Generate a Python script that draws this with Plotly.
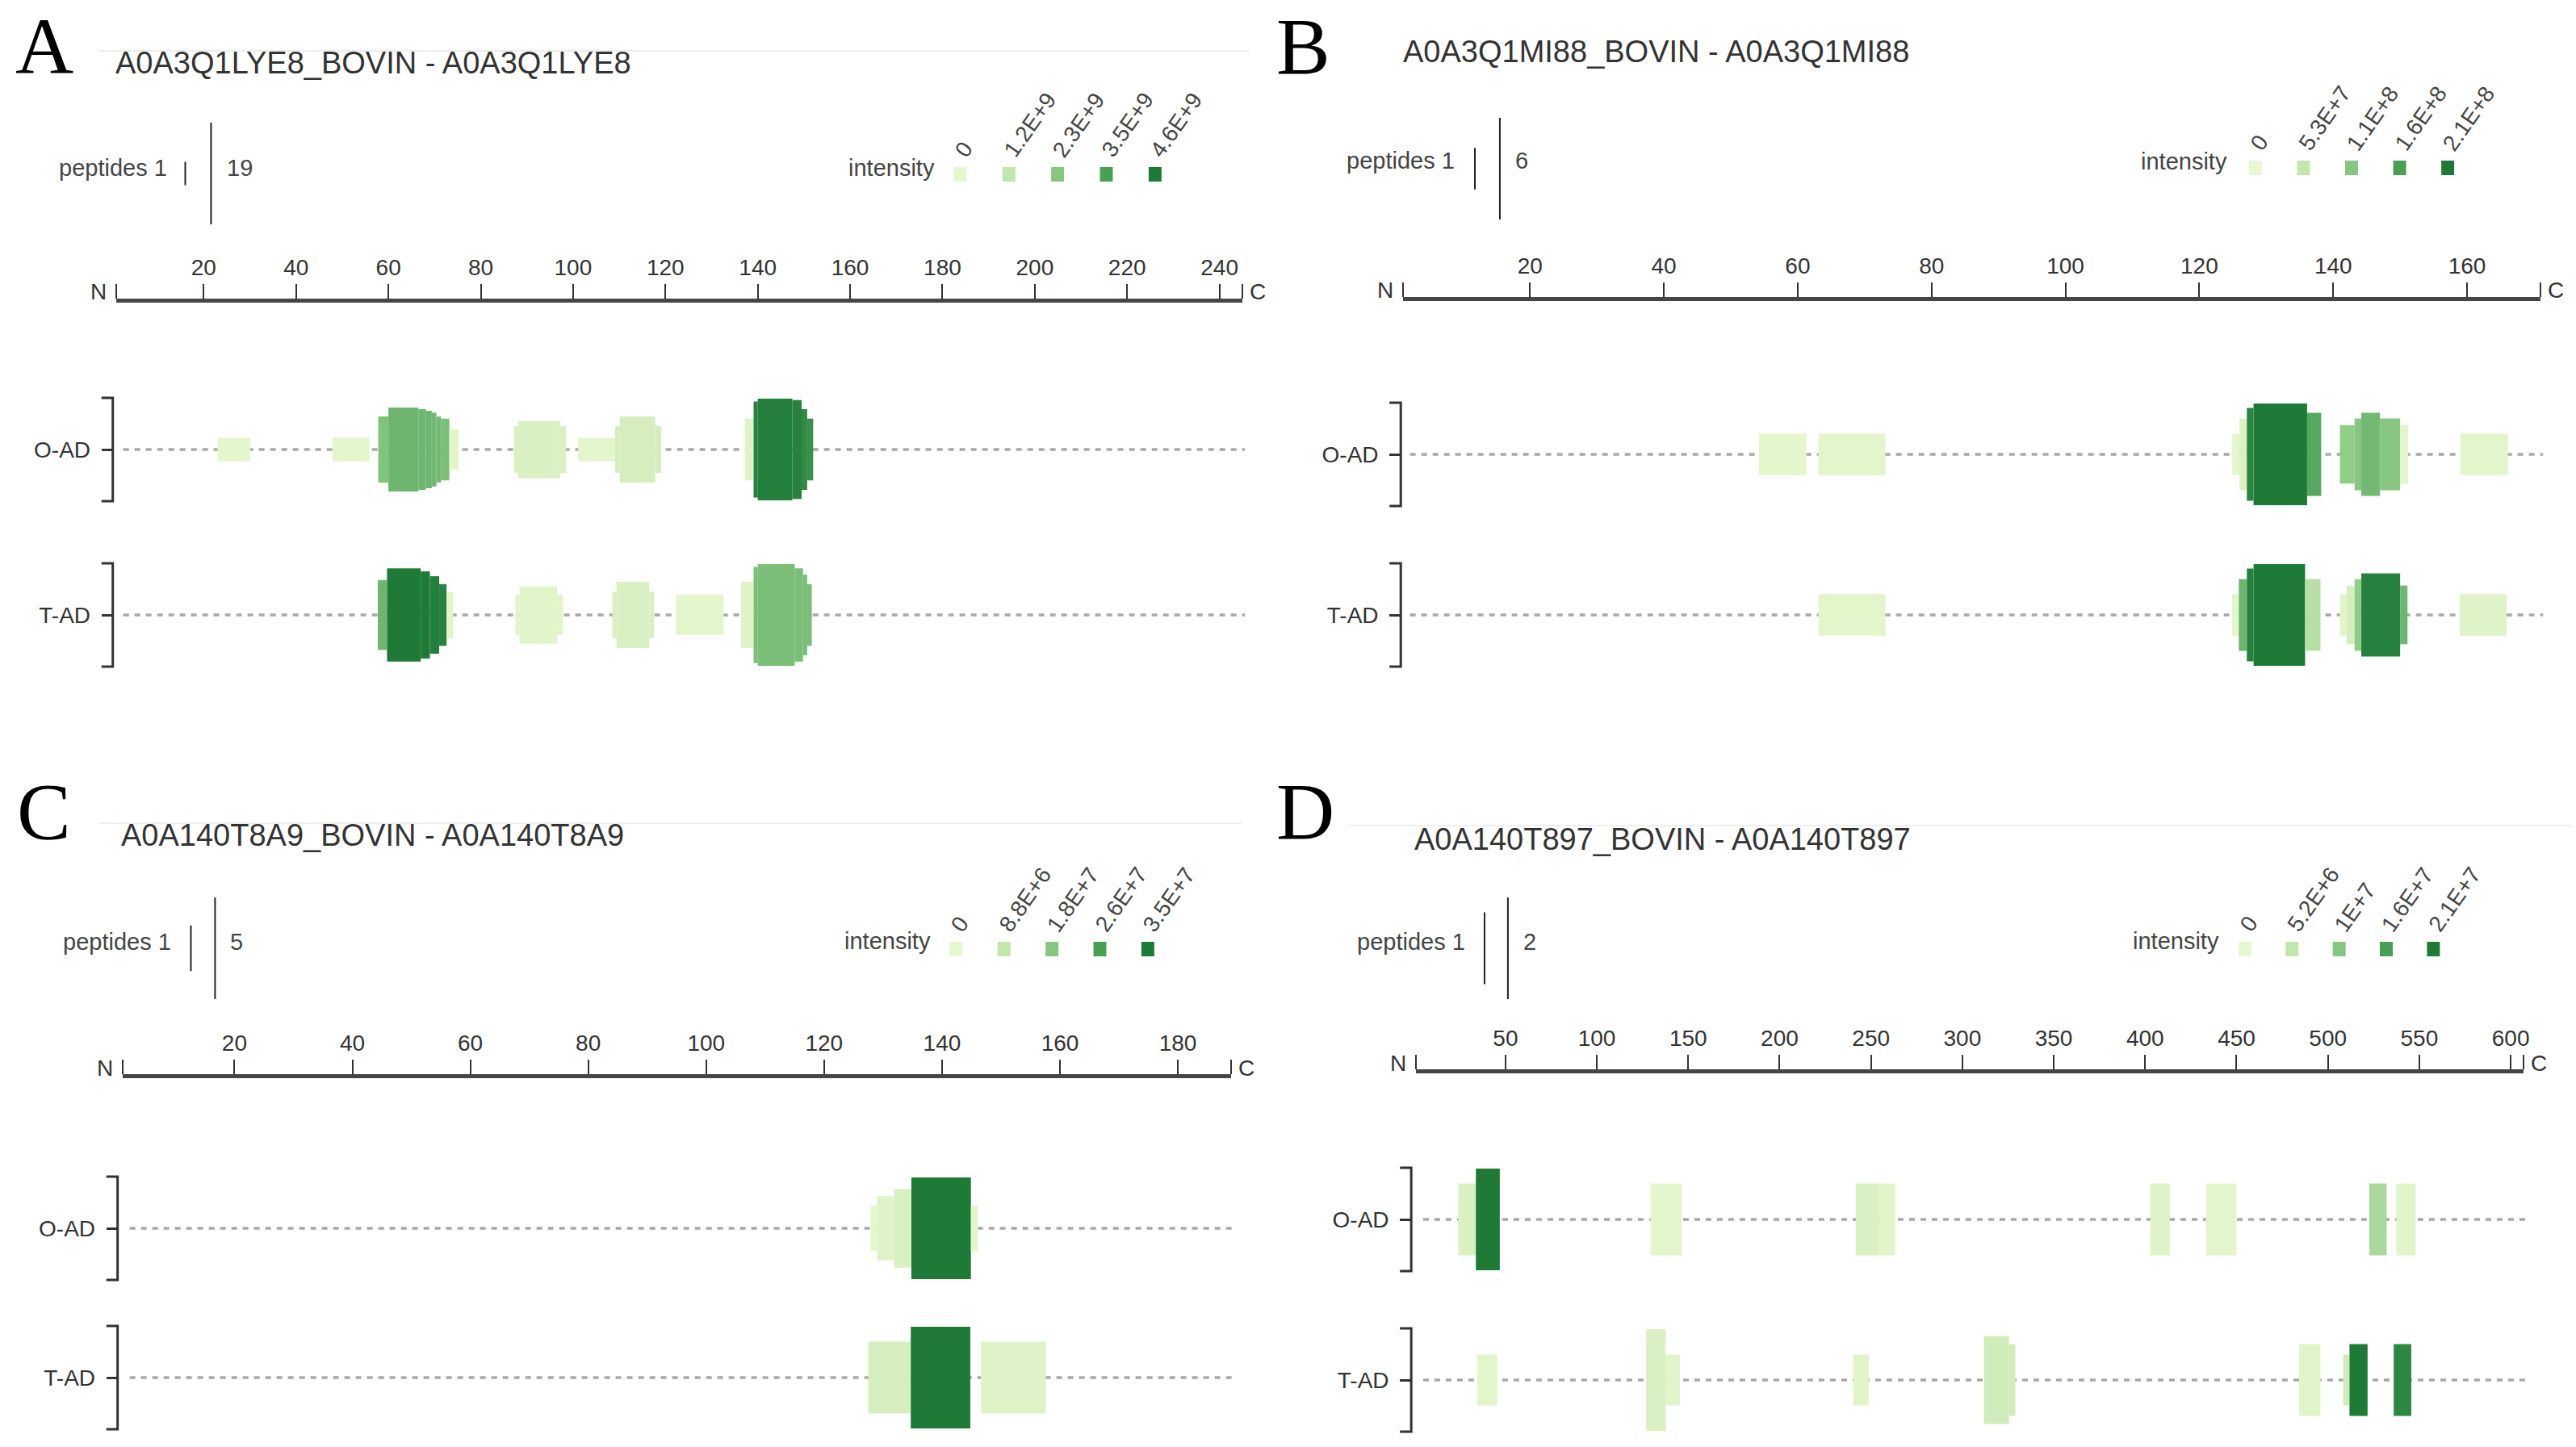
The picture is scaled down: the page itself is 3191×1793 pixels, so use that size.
import numpy as np
import plotly.graph_objects as go
from plotly.colors import sample_colorscale

W, H = 3191, 1793
FONT = "Liberation Sans, Arial, sans-serif"
SERIF = "Liberation Serif, Times New Roman, serif"
GREENS = [[0.0, "#e7f7cf"], [0.25, "#c3e5ae"], [0.5, "#86c680"], [0.75, "#4a9f57"], [1.0, "#1f7a38"]]
ROWS = ["O-AD", "T-AD"]

# ---------------- Panel A ----------------
A_title = "A0A3Q1LYE8_BOVIN - A0A3Q1LYE8"
A_len = 245
A_ticks = [20, 40, 60, 80, 100, 120, 140, 160, 180, 200, 220, 240]
A_int_labels = ["0", "1.2E+9", "2.3E+9", "3.5E+9", "4.6E+9"]
A_int_max = 4.6e9
A_OAD_start = [23.0, 47.9, 57.8, 60.0, 66.5, 68.1, 69.4, 70.4, 71.4, 73.2, 87.2, 88.1, 97.2, 101.1, 109.1, 110.1, 117.8, 137.2, 139.1, 140.0, 147.5, 149.5, 150.7]
A_OAD_end = [30.1, 55.9, 60.0, 66.5, 68.1, 69.4, 70.4, 71.4, 73.2, 75.2, 88.1, 97.2, 98.5, 109.1, 110.1, 117.8, 119.1, 139.1, 140.0, 147.5, 149.5, 150.7, 152.0]
A_OAD_pep = [1, 1, 8, 13, 12, 11, 10, 8, 7, 3, 4, 6, 4, 1, 4, 8, 4, 7, 17, 19, 18, 12, 7]
A_OAD_int = [0.09e9, 0.14e9, 2.4e9, 2.76e9, 2.76e9, 2.76e9, 2.67e9, 2.67e9, 2.53e9, 0.14e9, 0.46e9, 0.46e9, 0.46e9, 0.09e9, 0.55e9, 0.55e9, 0.55e9, 0.23e9, 4.37e9, 4.46e9, 4.37e9, 4.14e9, 3.91e9]
A_TAD_start = [57.7, 59.7, 67.0, 69.0, 71.0, 72.6, 87.5, 88.4, 96.5, 108.5, 109.4, 116.5, 122.3, 136.4, 139.1, 140.0, 148.0, 149.8, 150.7]
A_TAD_end = [59.7, 67.0, 69.0, 71.0, 72.6, 74.0, 88.4, 96.5, 97.8, 109.4, 116.5, 117.5, 132.6, 139.1, 140.0, 148.0, 149.8, 150.7, 151.7]
A_TAD_pep = [9, 16, 14, 11, 7, 4, 3, 6, 3, 4, 8, 4, 3, 8, 17, 19, 16, 12, 7]
A_TAD_int = [2.76e9, 4.6e9, 4.6e9, 4.46e9, 4.37e9, 0.18e9, 0.18e9, 0.18e9, 0.18e9, 0.46e9, 0.46e9, 0.46e9, 0.14e9, 0.23e9, 2.53e9, 2.53e9, 2.53e9, 2.53e9, 2.53e9]

# ---------------- Panel B ----------------
B_title = "A0A3Q1MI88_BOVIN - A0A3Q1MI88"
B_len = 171
B_ticks = [20, 40, 60, 80, 100, 120, 140, 160]
B_int_labels = ["0", "5.3E+7", "1.1E+8", "1.6E+8", "2.1E+8"]
B_int_max = 2.1e8
B_OAD_start = [54.2, 63.1, 124.9, 126.0, 127.1, 128.1, 136.1, 141.0, 143.2, 144.2, 147.0, 150.0, 159.0]
B_OAD_end = [61.3, 73.1, 126.0, 127.1, 128.1, 136.1, 138.2, 143.2, 144.2, 147.0, 150.0, 151.2, 166.1]
B_OAD_pep = [1, 1, 1, 3, 5, 6, 4, 2, 3, 4, 3, 2, 1]
B_OAD_int = [0.04e8, 0.06e8, 0.04e8, 0.17e8, 1.95e8, 2.1e8, 1.47e8, 0.95e8, 1.05e8, 1.22e8, 1.05e8, 0.08e8, 0.06e8]
B_TAD_start = [63.1, 124.9, 125.9, 127.1, 128.1, 135.8, 141.0, 142.0, 143.2, 144.2, 150.0, 158.9]
B_TAD_end = [73.1, 125.9, 127.1, 128.1, 135.8, 138.1, 142.0, 143.2, 144.2, 150.0, 151.1, 165.9]
B_TAD_pep = [1, 1, 3, 5, 6, 3, 1, 2, 3, 4, 2, 1]
B_TAD_int = [0.06e8, 0.06e8, 1.26e8, 2.0e8, 2.1e8, 0.63e8, 0.08e8, 0.25e8, 0.95e8, 2.0e8, 1.26e8, 0.13e8]

# ---------------- Panel C ----------------
C_title = "A0A140T8A9_BOVIN - A0A140T8A9"
C_len = 189
C_ticks = [20, 40, 60, 80, 100, 120, 140, 160, 180]
C_int_labels = ["0", "8.8E+6", "1.8E+7", "2.6E+7", "3.5E+7"]
C_int_max = 3.5e7
C_OAD_start = [127.9, 129.0, 131.9, 134.8, 144.9]
C_OAD_end = [129.0, 131.9, 134.8, 144.9, 146.1]
C_OAD_pep = [1, 2, 3, 5, 1]
C_OAD_int = [0.07e7, 0.21e7, 0.35e7, 3.5e7, 0.07e7]
C_TAD_start = [127.5, 134.7, 146.6]
C_TAD_end = [134.7, 144.8, 157.6]
C_TAD_pep = [2.5, 5, 2.5]
C_TAD_int = [0.42e7, 3.5e7, 0.21e7]

# ---------------- Panel D ----------------
D_title = "A0A140T897_BOVIN - A0A140T897"
D_len = 607
D_ticks = [50, 100, 150, 200, 250, 300, 350, 400, 450, 500, 550, 600]
D_int_labels = ["0", "5.2E+6", "1E+7", "1.6E+7", "2.1E+7"]
D_int_max = 2.1e7
D_OAD_start = [24.2, 33.8, 129.4, 241.7, 254.4, 402.9, 433.3, 522.6, 537.4]
D_OAD_end = [33.8, 46.9, 146.4, 254.4, 263.3, 413.5, 449.9, 532.1, 548.0]
D_OAD_pep = [1, 2, 1, 1, 1, 1, 1, 1, 1]
D_OAD_int = [0.21e7, 2.1e7, 0.06e7, 0.21e7, 0.08e7, 0.15e7, 0.06e7, 0.74e7, 0.08e7]
D_TAD_start = [34.5, 127.0, 137.6, 240.3, 311.8, 325.5, 484.3, 508.3, 511.8, 536.0]
D_TAD_end = [45.5, 137.6, 145.4, 248.8, 325.5, 329.0, 495.9, 511.8, 521.7, 545.6]
D_TAD_pep = [0.5, 2, 0.5, 0.5, 1.5, 1, 1, 0.5, 1, 1]
D_TAD_int = [0.06e7, 0.21e7, 0.08e7, 0.08e7, 0.32e7, 0.32e7, 0.1e7, 0.32e7, 2.1e7, 1.93e7]

PANELS = [
    dict(letter="A", title=A_title, length=A_len, ticks=A_ticks, int_labels=A_int_labels, int_max=A_int_max,
         rows=[(A_OAD_start, A_OAD_end, A_OAD_pep, A_OAD_int), (A_TAD_start, A_TAD_end, A_TAD_pep, A_TAD_int)]),
    dict(letter="B", title=B_title, length=B_len, ticks=B_ticks, int_labels=B_int_labels, int_max=B_int_max,
         rows=[(B_OAD_start, B_OAD_end, B_OAD_pep, B_OAD_int), (B_TAD_start, B_TAD_end, B_TAD_pep, B_TAD_int)]),
    dict(letter="C", title=C_title, length=C_len, ticks=C_ticks, int_labels=C_int_labels, int_max=C_int_max,
         rows=[(C_OAD_start, C_OAD_end, C_OAD_pep, C_OAD_int), (C_TAD_start, C_TAD_end, C_TAD_pep, C_TAD_int)]),
    dict(letter="D", title=D_title, length=D_len, ticks=D_ticks, int_labels=D_int_labels, int_max=D_int_max,
         rows=[(D_OAD_start, D_OAD_end, D_OAD_pep, D_OAD_int), (D_TAD_start, D_TAD_end, D_TAD_pep, D_TAD_int)]),
]

# ---------------- geometry (pixels in the 3191x1793 page) ----------------
GEO = [
    dict(x0=144, ppu=5.732, axis_y=372, yO=557, yT=762, brk=140, let=(20, None), tit=(141, 91),
         pep_r=209, pep_s=230, pep_l=262, pep_n=280, pep_ly=215, pep_ty=208,
         int_r=1163, int_y=208, sq_x=1192, sq_step=60.5, sq_y=216, faint=(63, 122, 1551)),
    dict(x0=1741.5, ppu=8.31, axis_y=370, yO=563, yT=762, brk=1739, let=(1585, None), tit=(1740, 77),
         pep_r=1808, pep_s=1831, pep_l=1862, pep_n=1879, pep_ly=209, pep_ty=199,
         int_r=2767, int_y=200, sq_x=2800, sq_step=59.7, sq_y=208, faint=None),
    dict(x0=152, ppu=7.32, axis_y=1333, yO=1522, yT=1707, brk=146, let=(22, 1005), tit=(148, 1048),
         pep_r=214, pep_s=237, pep_l=267, pep_n=284, pep_ly=1175, pep_ty=1167,
         int_r=1158, int_y=1166, sq_x=1187, sq_step=59.5, sq_y=1176, faint=(1020, 122, 1541)),
    dict(x0=1757.8, ppu=2.269, axis_y=1327, yO=1511, yT=1710, brk=1752, let=(1585, 1005), tit=(1754, 1053),
         pep_r=1821, pep_s=1843, pep_l=1872, pep_n=1889, pep_ly=1175, pep_ty=1167,
         int_r=2757, int_y=1166, sq_x=2787, sq_step=58.5, sq_y=1176, faint=(1023, 1676, 3191)),
]
HMAX = 126  # px height of the tallest peptide stack
PAD = 0.4
TITLE_FS = 38
LETTER_FS = 100


def xp(px):
    return px / W


def yp(py):
    return min(1.0, max(0.0, 1 - py / H))


fig = go.Figure()
layout = {}
shapes = []
annotations = []

for i, (p, g) in enumerate(zip(PANELS, GEO)):
    k = i + 1
    xname = "xaxis" if k == 1 else f"xaxis{k}"
    yname = "yaxis" if k == 1 else f"yaxis{k}"
    xref = "x" if k == 1 else f"x{k}"
    yref = "y" if k == 1 else f"y{k}"
    L = p["length"]
    s = g["yT"] - g["yO"]
    x_end = g["x0"] + (L - 1) * g["ppu"]
    pep_max = max(max(r[2]) for r in p["rows"])

    layout[xname] = dict(
        domain=[xp(g["x0"]), xp(x_end)], range=[1, L], anchor="free", position=yp(g["axis_y"]),
        side="top", showline=True, linecolor="#454545", linewidth=5, ticks="outside", ticklen=18,
        tickwidth=2, tickcolor="#333", tickvals=[1] + p["ticks"] + [L],
        ticktext=[""] + [str(t) for t in p["ticks"]] + [""],
        tickfont=dict(family=FONT, size=28, color="#333"), showgrid=False, zeroline=False,
        ticklabelstandoff=0, fixedrange=True,
    )
    layout[yname] = dict(
        domain=[yp(g["yT"] + PAD * s), yp(g["yO"] - PAD * s)], range=[-PAD, 1 + PAD],
        anchor="free", position=xp(g["brk"]), side="left", showline=False, ticks="outside",
        ticklen=14, tickwidth=3, tickcolor="#333", tickvals=[1, 0], ticktext=ROWS,
        tickfont=dict(family=FONT, size=28, color="#333"), showgrid=False, zeroline=False,
        ticklabelstandoff=8, fixedrange=True,
    )

    for rv, (st, en, pep, inten) in zip([1, 0], p["rows"]):
        st = np.array(st); en = np.array(en); pep = np.array(pep, dtype=float)
        h = HMAX / s * np.sqrt(pep / pep_max)
        fig.add_trace(go.Bar(
            x=(st + en) / 2, width=en - st, y=h, base=rv - h / 2,
            marker=dict(color=inten, colorscale=GREENS, cmin=0, cmax=p["int_max"], line=dict(width=0)),
            xaxis=xref, yaxis=yref, showlegend=False, hoverinfo="skip",
        ))
        # dotted guide line
        shapes.append(dict(type="line", xref="paper", yref=yref, x0=xp(g["x0"] + 9), x1=xp(x_end + 3),
                           y0=rv, y1=rv, line=dict(color="#a8a8a8", width=3.5, dash="7px,7px"), layer="below"))
        # bracket
        half = (HMAX / 2 + 1) / s
        bx = xp(g["brk"]); f = 14 / W
        shapes.append(dict(type="path", xref="paper", yref=yref,
                           path=f"M {bx - f},{rv + half} L {bx},{rv + half} L {bx},{rv - half} L {bx - f},{rv - half}",
                           line=dict(color="#333", width=3)))

    # N / C labels
    annotations.append(dict(text="N", x=xp(g["x0"] - 10), y=yp(g["axis_y"] - 10), xanchor="right", yanchor="middle",
                            font=dict(family=FONT, size=28, color="#333")))
    annotations.append(dict(text="C", x=xp(x_end + 7), y=yp(g["axis_y"] - 10), xanchor="left", yanchor="middle",
                            font=dict(family=FONT, size=28, color="#333")))

    # panel letter and title
    if g["let"][1] is None:
        annotations.append(dict(text=p["letter"], x=xp(g["let"][0] - 3), y=1.0, xanchor="left", yanchor="top",
                                font=dict(family=SERIF, size=LETTER_FS, color="#000")))
    else:
        annotations.append(dict(text=p["letter"], x=xp(g["let"][0] - 3), y=yp(g["let"][1]), xanchor="left",
                                yanchor="middle", font=dict(family=SERIF, size=LETTER_FS, color="#000")))
    annotations.append(dict(text=p["title"], x=xp(g["tit"][0]), y=yp(g["tit"][1] - 0.35 * TITLE_FS), xanchor="left",
                            yanchor="middle", font=dict(family=FONT, size=TITLE_FS, color="#333")))
    if g["faint"]:
        fy, fx0, fx1 = g["faint"]
        shapes.append(dict(type="line", xref="paper", yref="paper", x0=xp(fx0), x1=xp(fx1), y0=yp(fy), y1=yp(fy),
                           line=dict(color="#eeeeee", width=2)))

    # peptides legend
    for lx, n in [(g["pep_s"], 1), (g["pep_l"], pep_max)]:
        hh = HMAX * np.sqrt(n / pep_max)
        shapes.append(dict(type="line", xref="paper", yref="paper", x0=xp(lx), x1=xp(lx),
                           y0=yp(g["pep_ly"] - hh / 2), y1=yp(g["pep_ly"] + hh / 2),
                           line=dict(color="#222", width=2)))
    annotations.append(dict(text="peptides 1", x=xp(g["pep_r"]), y=yp(g["pep_ty"]), xanchor="right", yanchor="middle",
                            font=dict(family=FONT, size=29, color="#444")))
    annotations.append(dict(text=f"{pep_max:g}", x=xp(g["pep_n"]), y=yp(g["pep_ty"]), xanchor="left", yanchor="middle",
                            font=dict(family=FONT, size=29, color="#444")))

    # intensity legend
    annotations.append(dict(text="intensity", x=xp(g["int_r"]), y=yp(g["int_y"]), xanchor="right", yanchor="middle",
                            font=dict(family=FONT, size=29, color="#444")))
    fracs = [0, 0.25, 0.5, 0.75, 1.0]
    cols = sample_colorscale(GREENS, fracs)
    for j, (lab, c) in enumerate(zip(p["int_labels"], cols)):
        cx = g["sq_x"] + j * g["sq_step"]
        shapes.append(dict(type="rect", xref="paper", yref="paper", x0=xp(cx - 8), x1=xp(cx + 8),
                           y0=yp(g["sq_y"] + 9), y1=yp(g["sq_y"] - 9), fillcolor=c, line=dict(width=0)))
        annotations.append(dict(text=lab, x=xp(cx - 15), y=yp(g["sq_y"] - 13), xanchor="left", yanchor="bottom",
                                textangle=-55, font=dict(family=FONT, size=28, color="#444")))

for a in annotations:
    a.update(xref="paper", yref="paper", showarrow=False)

fig.update_layout(
    width=W, height=H, margin=dict(l=0, r=0, t=0, b=0), autosize=False,
    paper_bgcolor="white", plot_bgcolor="white", barmode="overlay", showlegend=False,
    shapes=shapes, annotations=annotations, **layout,
)
fig.write_html("out.html", config={"displayModeBar": False, "staticPlot": True},
               post_script="document.body.style.margin='0';document.body.style.overflow='hidden';")
